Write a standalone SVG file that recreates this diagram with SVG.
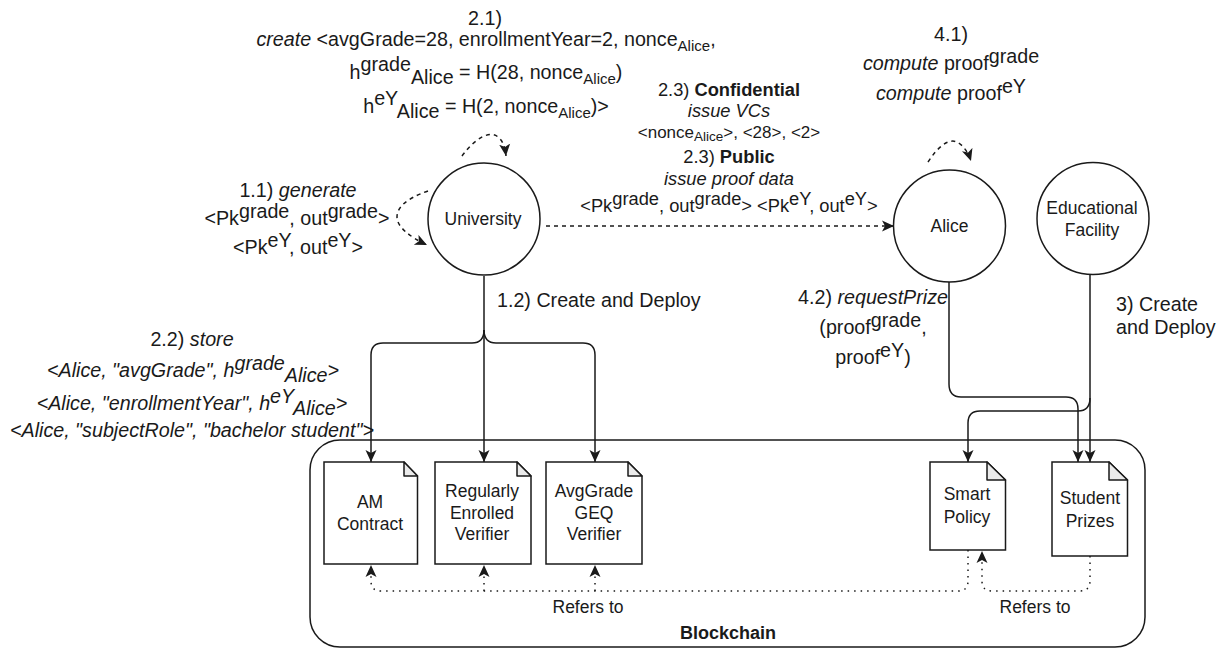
<svg xmlns="http://www.w3.org/2000/svg" width="1220" height="648" viewBox="0 0 1220 648">
<style>
text{font-family:"Liberation Sans",Arial,sans-serif;font-size:19.700px;fill:#1a1a1a;text-anchor:middle}
.n text{font-size:17.500px}
.m{font-size:18.300px}
.t{font-size:17.500px}
.sub{font-size:15px}
.l{text-anchor:start}
.i{font-style:italic}
.b{font-weight:bold}
.shape{fill:#fff;stroke:#1a1a1a;stroke-width:1.500}
.fold{fill:#ebebeb;stroke:#1a1a1a;stroke-width:1.500;stroke-linejoin:round}
.c{fill:none;stroke:#1a1a1a;stroke-width:1.500}
.a{marker-end:url(#arrow)}
.d{stroke-dasharray:4 4}
.o{stroke-dasharray:1.500 5}
</style>
<defs>
<marker id="arrow" markerUnits="userSpaceOnUse" markerWidth="16" markerHeight="16" refX="12" refY="6" orient="auto">
<path d="M0 0.500L12 6L0 11.500L3 6Z" fill="#1a1a1a"/>
</marker>
</defs>
<g id="blockchain"><rect class="shape" x="310" y="440" width="835" height="207" rx="30"/><text class="b t" x="728" y="639" style="font-size:18px">Blockchain</text></g>
<g id="connectors">
<path class="c a" d="M484 276V462"/>
<path class="c a" d="M484 330Q484 343 472 343H383Q371 343 371 355V462"/>
<path class="c a" d="M484 330Q484 343 496 343H583Q595 343 595 355V462"/>
<path class="c a" d="M949 282V384Q949 397 961 397H1066Q1078 397 1078 409V462"/>
<path class="c a" d="M1090 274V462"/>
<path class="c a" d="M1090 398Q1090 411 1078 411H980Q968 411 968 423V462"/>
<path class="c d a" d="M546 226H894"/>
<path class="c d a" d="M462 156C475 138 490 130 498 137C503 141 505 147 506 156"/>
<path class="c d a" d="M428 191C405 199 397 208 397 217C397 227 410 237 427 245"/>
<path class="c d a" d="M928 162C937 148 948 138 957 142C963 145 968 152 971 161"/>
<path class="c o a" d="M968 550V581Q968 591 958 591H381Q371 591 371 581V565"/>
<path class="c o a" d="M484 591V565"/>
<path class="c o a" d="M595 591V565"/>
<path class="c o a" d="M1090 556V581Q1090 591 1080 591H992Q982 591 982 581V551"/>
</g>
<g id="university" class="n"><circle class="shape" cx="484" cy="219" r="56"/><text x="483" y="225">University</text></g>
<g id="alice" class="n"><ellipse class="shape" cx="949.500" cy="226" rx="56" ry="56"/><text x="949.500" y="232">Alice</text></g>
<g id="educational-facility" class="n"><ellipse class="shape" cx="1093" cy="218.500" rx="56" ry="56"/><text x="1092" y="214">Educational</text><text x="1092" y="236">Facility</text></g>
<g id="am-contract" class="n"><path class="shape" d="M324 462H404L417.500 476V564H324Z"/><path class="fold" d="M404 462V476H417.500Z"/><text x="370" y="508">AM</text><text x="370" y="530">Contract</text></g>
<g id="regularly-enrolled-verifier" class="n"><path class="shape" d="M435 462H517L531 476V564H435Z"/><path class="fold" d="M517 462V476H531Z"/><text x="482" y="497">Regularly</text><text x="482" y="519">Enrolled</text><text x="482" y="540">Verifier</text></g>
<g id="avggrade-geq-verifier" class="n"><path class="shape" d="M546 462H628L642 476V564H546Z"/><path class="fold" d="M628 462V476H642Z"/><text x="594" y="497">AvgGrade</text><text x="594" y="519">GEQ</text><text x="594" y="540">Verifier</text></g>
<g id="smart-policy" class="n"><path class="shape" d="M930 462H987L1005.500 480V550H930Z"/><path class="fold" d="M987 462V480H1005.500Z"/><text x="967" y="500">Smart</text><text x="967" y="523">Policy</text></g>
<g id="student-prizes" class="n"><path class="shape" d="M1052 462H1109L1127.500 480V556H1052Z"/><path class="fold" d="M1109 462V480H1127.500Z"/><text x="1090" y="504">Student</text><text x="1090" y="527">Prizes</text></g>
<g id="labels">
<text x="485" y="25">2.1)</text>
<text x="486" y="46"><tspan class="i">create</tspan> &lt;avgGrade=28, enrollmentYear=2, nonce<tspan class="sub" dy="5">Alice</tspan><tspan dy="-5">,</tspan></text>
<text x="486" y="79">h<tspan dy="-8">grade</tspan><tspan dy="13">Alice</tspan><tspan dy="-5"> = H(28, nonce</tspan><tspan class="sub" dy="5">Alice</tspan><tspan dy="-5">)</tspan></text>
<text x="486" y="113">h<tspan dy="-8">eY</tspan><tspan dy="13">Alice</tspan><tspan dy="-5"> = H(2, nonce</tspan><tspan class="sub" dy="5">Alice</tspan><tspan dy="-5">)&gt;</tspan></text>
<text x="298" y="197">1.1) <tspan class="i">generate</tspan></text>
<text x="297" y="225">&lt;Pk<tspan dy="-7">grade</tspan><tspan dy="7">, out</tspan><tspan dy="-7">grade</tspan><tspan dy="7">&gt;</tspan></text>
<text x="298" y="254">&lt;Pk<tspan dy="-7">eY</tspan><tspan dy="7">, out</tspan><tspan dy="-7">eY</tspan><tspan dy="7">&gt;</tspan></text>
<text class="m" x="729" y="96">2.3) <tspan class="b">Confidential</tspan></text>
<text class="m i" x="729" y="117">issue VCs</text>
<text style="font-size:17px" x="729" y="138">&lt;nonce<tspan style="font-size:13.500px" dy="3">Alice</tspan><tspan dy="-3">&gt;, &lt;28&gt;, &lt;2&gt;</tspan></text>
<text class="m" x="729" y="163">2.3) <tspan class="b">Public</tspan></text>
<text class="m i" x="729" y="185">issue proof data</text>
<text class="m" x="729" y="212">&lt;Pk<tspan dy="-7">grade</tspan><tspan dy="7">, out</tspan><tspan dy="-7">grade</tspan><tspan dy="7">&gt; &lt;Pk</tspan><tspan dy="-7">eY</tspan><tspan dy="7">, out</tspan><tspan dy="-7">eY</tspan><tspan dy="7">&gt;</tspan></text>
<text x="951" y="41">4.1)</text>
<text x="951" y="70"><tspan class="i">compute</tspan> proof<tspan dy="-7">grade</tspan></text>
<text x="951" y="100"><tspan class="i">compute</tspan> proof<tspan dy="-7">eY</tspan></text>
<text x="873" y="304">4.2) <tspan class="i">requestPrize</tspan></text>
<text x="873" y="334">(proof<tspan dy="-7">grade</tspan><tspan dy="7">,</tspan></text>
<text x="873" y="364">proof<tspan dy="-7">eY</tspan><tspan dy="7">)</tspan></text>
<text class="l" x="1116" y="311">3) Create</text>
<text class="l" x="1116" y="334">and Deploy</text>
<text class="l" x="497" y="307">1.2) Create and Deploy</text>
<text class="i" x="192" y="346"><tspan font-style="normal">2.2)</tspan> store</text>
<text class="i" x="193" y="377">&lt;Alice, "avgGrade", h<tspan dy="-7">grade</tspan><tspan dy="12">Alice</tspan><tspan dy="-5">&gt;</tspan></text>
<text class="i" x="192" y="410">&lt;Alice, "enrollmentYear", h<tspan dy="-7">eY</tspan><tspan dy="12">Alice</tspan><tspan dy="-5">&gt;</tspan></text>
<text class="i" x="192" y="437">&lt;Alice, "subjectRole", "bachelor student"&gt;</text>
<text class="t" x="588" y="613">Refers to</text>
<text class="t" x="1035" y="613">Refers to</text>
</g>
</svg>
